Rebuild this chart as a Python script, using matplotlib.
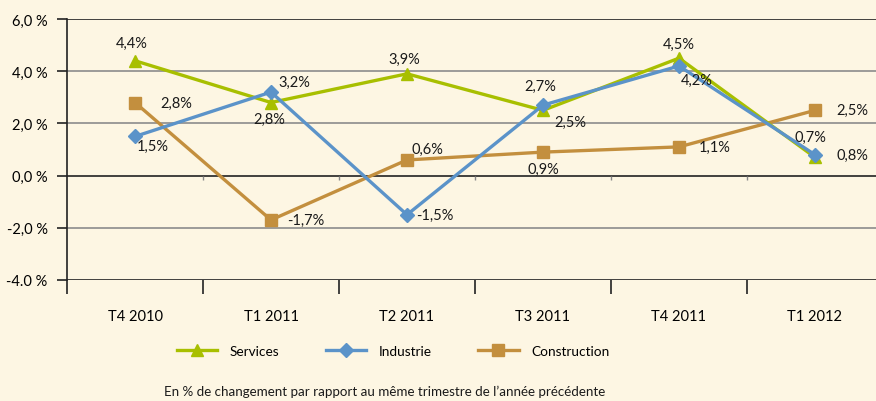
import numpy as np
import matplotlib
matplotlib.use("Agg")
import matplotlib.pyplot as plt

plt.rcParams['font.family'] = ['Lato', 'DejaVu Sans']

quarters = ["T4 2010", "T1 2011", "T2 2011", "T3 2011", "T4 2011", "T1 2012"]
services = [4.4, 2.8, 3.9, 2.5, 4.5, 0.7]
industrie = [1.5, 3.2, -1.5, 2.7, 4.2, 0.8]
construction = [2.8, -1.7, 0.6, 0.9, 1.1, 2.5]
yticks = [6, 4, 2, 0, -2, -4]
ytick_labels = ["6,0 %", "4,0 %", "2,0 %", "0,0 %", "-2,0 %", "-4.0 %"]

bg = "#fdf6e3"
c_serv = "#a8bf00"
c_ind = "#5b93c9"
c_con = "#c38f3e"
fs = 10.5

fig = plt.figure(figsize=(8.76, 4.02), dpi=100, facecolor=bg)
ax = fig.add_axes([67 / 876, 1 - 281 / 402, 816 / 876, 261 / 402])
ax.set_facecolor(bg)

x = np.arange(len(quarters))

# grid lines
for v in yticks:
    if v in (0, 6, -4):
        ax.axhline(v, color="#222222", lw=1.2, zorder=1)
    else:
        ax.axhline(v, color="#8c8c8c", lw=1.2, zorder=1)

# small ticks on zero line
bounds = x[:-1] + 0.5
ax.vlines(bounds, -0.15, 0, color="#888888", lw=1, zorder=1)

ax.plot(x, services, color=c_serv, lw=2.4, marker="^", ms=9, label="Services", zorder=3)
ax.plot(x, industrie, color=c_ind, lw=2.4, marker="D", ms=7, label="Industrie", zorder=4)
ax.plot(x, construction, color=c_con, lw=2.4, marker="s", ms=8, label="Construction", zorder=2)

def fmt(v):
    return ("%.1f%%" % v).replace(".", ",")

# label offsets in points (dx, dy)
serv_off = [(-2, 13), (-1, -12), (-2, 11), (20, -8), (0, 10), (-3, 15)]
ind_off = [(13, -7), (17, 7), (20, 0), (-2, 14), (13, -10), (27, 0)]
con_off = [(30, 0), (25, 0), (15, 8), (0, -12), (26, 0), (27, 0)]

for vals, offs in ((services, serv_off), (industrie, ind_off), (construction, con_off)):
    for xi, v, (dx, dy) in zip(x, vals, offs):
        ax.annotate(fmt(v), (xi, v), xytext=(dx, dy), textcoords="offset points",
                    ha="center", va="center", fontsize=fs, color="#1a1a1a", zorder=5)

ax.set_xlim(-0.5, len(quarters) - 0.5)
ax.set_ylim(-4, 6)
ax.set_yticks(yticks)
ax.set_yticklabels(ytick_labels, fontsize=fs)
ax.tick_params(axis="y", length=7, width=1.2, pad=7, color="#222222")

ax.set_xticks(np.arange(-0.5, len(quarters), 1.0))
ax.set_xticklabels([])
ax.tick_params(axis="x", which="major", length=10, width=1.2, color="#222222")
ax.set_xticks(x, minor=True)
ax.set_xticklabels(quarters, minor=True, fontsize=fs)
ax.tick_params(axis="x", which="minor", length=0, pad=21)

for s in ("top", "right", "bottom"):
    ax.spines[s].set_visible(False)
ax.spines["left"].set_color("#222222")
ax.spines["left"].set_linewidth(1.2)

fig.legend(loc="center", bbox_to_anchor=(393 / 876, 1 - 352 / 402), ncol=3,
           frameon=False, fontsize=9.8, handlelength=3.0, columnspacing=3.4,
           handletextpad=0.9)

fig.text(385 / 876, 1 - 392 / 402,
         "En % de changement par rapport au même trimestre de l\u2019année précédente",
         ha="center", va="center", fontsize=9.6, color="#1a1a1a")

fig.savefig("out.png", dpi=100, facecolor=bg)
